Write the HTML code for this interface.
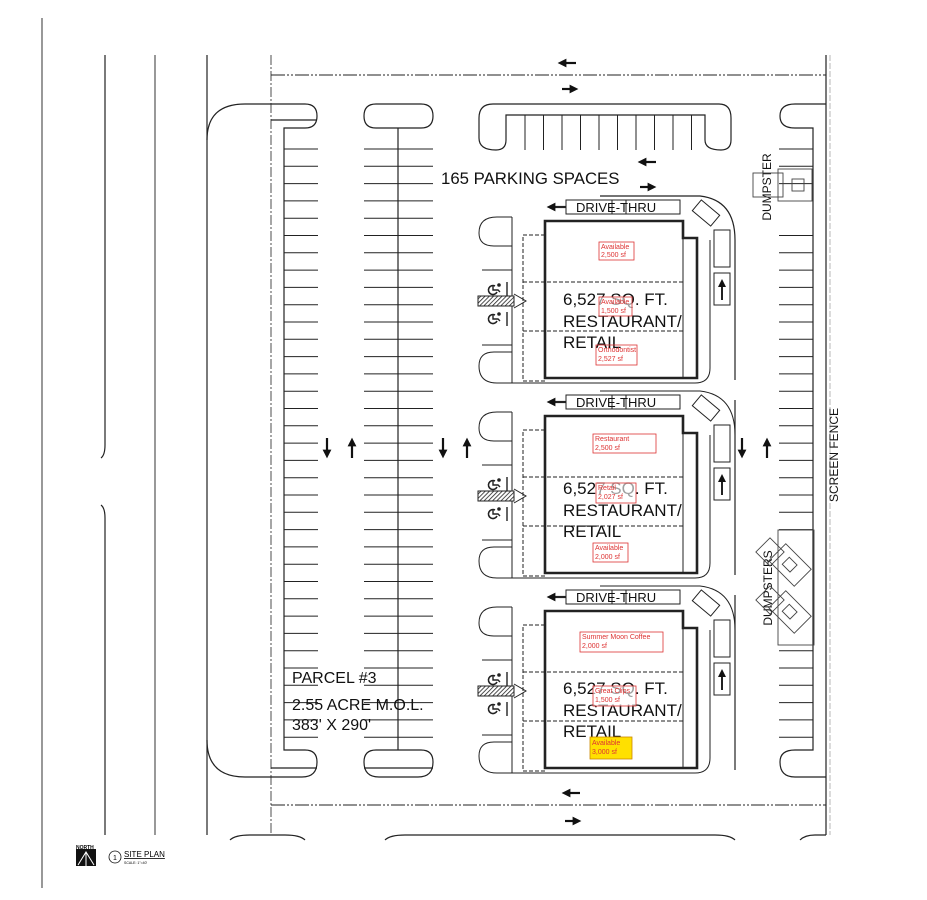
<!DOCTYPE html>
<html><head><meta charset="utf-8"><style>
html,body{margin:0;padding:0;background:#fff;width:927px;height:900px;overflow:hidden}
svg{display:block}
text{font-family:"Liberation Sans",sans-serif}
.r{fill:#d33;font-size:7px}
.big{font-size:17px;fill:#111}
</style></head><body>
<svg id="s" width="927" height="900" viewBox="0 0 927 900" xmlns="http://www.w3.org/2000/svg">
<defs>
<pattern id="h" width="3" height="3" patternUnits="userSpaceOnUse" patternTransform="rotate(45)"><rect width="3" height="3" fill="#fff"/><line x1="0" y1="0" x2="0" y2="3" stroke="#222" stroke-width="1.6"/></pattern>
<marker id="a" markerWidth="4" markerHeight="4" refX="2" refY="2" orient="auto-start-reverse"><path d="M0,0 L4,2 L0,4z" fill="#111"/></marker>
</defs>
<g fill="none" stroke="#222" stroke-width="1.2">
<line x1="42" y1="18" x2="42" y2="888" stroke="#555"/>
<path d="M105,55 V445 Q105,455 101,458"/><path d="M101,505 Q105,508 105,518 V835"/>
<line x1="155" y1="55" x2="155" y2="835" stroke="#555"/>
<line x1="207" y1="55" x2="207" y2="835"/>
<line x1="271" y1="55" x2="271" y2="835" stroke-dasharray="10,2,2,2" stroke-width="0.8"/>
<line x1="271" y1="75" x2="826" y2="75" stroke-dasharray="14,2,2,2,2,2" stroke-width="0.9"/>
<line x1="271" y1="805" x2="826" y2="805" stroke-dasharray="14,2,2,2,2,2" stroke-width="0.9"/>
<line x1="826" y1="55" x2="826" y2="835"/>
<line x1="830" y1="55" x2="830" y2="835" stroke-dasharray="6,2" stroke-width="0.6" stroke="#888"/>
<path d="M207,140 Q207,104 245,104 H305 Q317,104 317,116 Q317,128 305,128 H284 V750 H305 Q317,750 317,762 Q317,777 302,777 H245 Q207,777 207,740"/>
<line x1="271" y1="120" x2="317" y2="120"/><line x1="271" y1="768" x2="317" y2="768"/>
<path d="M364,116 Q364,104 376,104 H421 Q433,104 433,116 Q433,128 421,128 H376 Q364,128 364,116z"/>
<path d="M364,762 Q364,750 376,750 H421 Q433,750 433,762 Q433,777 418,777 H379 Q364,777 364,762z"/>
<line x1="364" y1="768" x2="433" y2="768"/>
<line x1="398" y1="128" x2="398" y2="750"/>
<path d="M493,104 H719 Q731,104 731,118 V140 Q731,150 721,150 Q705,150 705,140 V115 H506 V140 Q506,150 496,150 Q479,150 479,138 V118 Q479,104 493,104z"/>
<path d="M826,104 H795 Q780,104 780,116 Q780,128 795,128 H813 V750 H795 Q780,750 780,762 Q780,777 795,777 H826"/>
<path d="M230,840 Q235,835 250,835 H285 Q300,835 305,840"/>
<path d="M385,840 Q390,835 405,835 H715 Q730,835 735,840"/>
<path d="M800,840 Q805,835 815,835 H826"/>
<path d="M600,196 H700 Q735,200 735,240 V380"/>
<path d="M735,400 V575"/><path d="M735,595 V770"/>
</g>
<g id="gen" fill="none" stroke="#222" stroke-width="1"></g>
<g fill="none" stroke="#111" stroke-width="2.2" marker-end="url(#a)">
<line x1="576" y1="63" x2="562" y2="63"/><line x1="562" y1="89" x2="574" y2="89"/>
<line x1="656" y1="162" x2="642" y2="162"/><line x1="640" y1="187" x2="652" y2="187"/>
<line x1="580" y1="793" x2="566" y2="793"/><line x1="565" y1="821" x2="577" y2="821"/>
<line x1="327" y1="438" x2="327" y2="454"/><line x1="352" y1="458" x2="352" y2="442"/>
<line x1="443" y1="438" x2="443" y2="454"/><line x1="467" y1="458" x2="467" y2="442"/>
<line x1="742" y1="438" x2="742" y2="454"/><line x1="767" y1="458" x2="767" y2="442"/>
</g>
<text x="441" y="184" font-size="16.8" fill="#111">165 PARKING SPACES</text>
<text x="292" y="683" font-size="16" fill="#111">PARCEL #3</text>
<text x="292" y="710" font-size="16" fill="#111">2.55 ACRE M.O.L.</text>
<text x="292" y="730" font-size="16" fill="#111">383' X 290'</text>
<text transform="translate(838,455) rotate(-90)" text-anchor="middle" font-size="12" fill="#111">SCREEN FENCE</text>
<text transform="translate(771,187) rotate(-90)" text-anchor="middle" font-size="12" fill="#111">DUMPSTER</text>
<text transform="translate(772,588) rotate(-90)" text-anchor="middle" font-size="12" fill="#111">DUMPSTERS</text>
<g fill="none" stroke="#444" stroke-width="0.9">
<rect x="753" y="173" width="30" height="24"/><rect x="778" y="169" width="34" height="32"/><rect x="792" y="179" width="12" height="12"/>
<rect x="778" y="530" width="36" height="115"/>
<g transform="translate(790,565) rotate(45)"><rect x="-18" y="-12" width="36" height="24"/><rect x="-6" y="-5" width="11" height="10"/></g>
<g transform="translate(790,612) rotate(45)"><rect x="-18" y="-12" width="36" height="24"/><rect x="-6" y="-5" width="11" height="10"/></g>
<g transform="translate(770,552) rotate(45)"><rect x="-10" y="-10" width="20" height="20"/></g>
<g transform="translate(770,600) rotate(45)"><rect x="-10" y="-10" width="20" height="20"/></g>
</g>
<g>
<text x="563" y="305" class="big">6,527 SQ. FT.</text><text x="563" y="327" class="big">RESTAURANT/</text><text x="563" y="348" class="big">RETAIL</text>
<rect x="599" y="242" width="35" height="18" fill="none" stroke="#d33" stroke-width="0.8"/><text x="601" y="249" class="r">Available</text><text x="601" y="257" class="r">2,500 sf</text>
<rect x="599" y="297" width="33" height="19" fill="#fff" fill-opacity="0.6" stroke="#d33" stroke-width="0.8"/><text x="601" y="304" class="r">Available</text><text x="601" y="313" class="r">1,500 sf</text>
<rect x="596" y="345" width="41" height="20" fill="none" stroke="#d33" stroke-width="0.8"/><text x="598" y="352" class="r">Orthodontist</text><text x="598" y="361" class="r">2,527 sf</text>
</g>
<g>
<text x="563" y="494" class="big">6,527 SQ. FT.</text><text x="563" y="516" class="big">RESTAURANT/</text><text x="563" y="537" class="big">RETAIL</text>
<rect x="593" y="434" width="63" height="19" fill="none" stroke="#d33" stroke-width="0.8"/><text x="595" y="441" class="r">Restaurant</text><text x="595" y="450" class="r">2,500 sf</text>
<rect x="596" y="483" width="40" height="20" fill="#fff" fill-opacity="0.6" stroke="#d33" stroke-width="0.8"/><text x="598" y="490" class="r">Retail</text><text x="598" y="499" class="r">2,027 sf</text>
<rect x="593" y="543" width="35" height="19" fill="none" stroke="#d33" stroke-width="0.8"/><text x="595" y="550" class="r">Available</text><text x="595" y="559" class="r">2,000 sf</text>
</g>
<g>
<text x="563" y="694" class="big">6,527 SQ. FT.</text><text x="563" y="716" class="big">RESTAURANT/</text><text x="563" y="737" class="big">RETAIL</text>
<rect x="580" y="632" width="83" height="20" fill="none" stroke="#d33" stroke-width="0.8"/><text x="582" y="639" class="r">Summer Moon Coffee</text><text x="582" y="648" class="r">2,000 sf</text>
<rect x="593" y="686" width="43" height="20" fill="#fff" fill-opacity="0.6" stroke="#d33" stroke-width="0.8"/><text x="595" y="693" class="r">Great Clips</text><text x="595" y="702" class="r">1,500 sf</text>
<rect x="590" y="737" width="42" height="22" fill="#ffe000" stroke="#c80" stroke-width="0.8"/><text x="592" y="745" class="r">Available</text><text x="592" y="754" class="r">3,000 sf</text>
</g>
<text x="576" y="212" font-size="13" fill="#111">DRIVE-THRU</text>
<text x="576" y="407" font-size="13" fill="#111">DRIVE-THRU</text>
<text x="576" y="602" font-size="13" fill="#111">DRIVE-THRU</text>
<rect x="76" y="849" width="20" height="17" fill="#111"/><text x="76" y="849" font-size="5" font-weight="bold">NORTH</text>
<path d="M78,865 L86,852 L94,865 M86,852 V866" stroke="#fff" fill="none" stroke-width="1"/>
<circle cx="115" cy="857" r="6" fill="none" stroke="#111" stroke-width="0.8"/><text x="113" y="860" font-size="7">1</text>
<text x="124" y="857" font-size="8" text-decoration="underline">SITE PLAN</text>
<text x="124" y="864" font-size="3.5">SCALE: 1"=40'</text>
</svg>
<script>
var g=document.getElementById('gen'),N='http://www.w3.org/2000/svg';
function el(t,a){var e=document.createElementNS(N,t);for(var k in a)e.setAttribute(k,a[k]);g.appendChild(e);return e;}
function L(x1,y1,x2,y2,o){var a={x1:x1,y1:y1,x2:x2,y2:y2};for(var k in o)a[k]=o[k];el('line',a);}
function HC(x,y){el('path',{d:'M'+(x+5)+','+(y-3)+' A4.5,4.5 0 1 0 '+(x+7)+','+(y+3),'stroke-width':1.6});
el('path',{d:'M'+(x+3)+','+(y-4)+' V'+(y+1)+' H'+(x+8)+' L'+(x+10)+','+(y+3),'stroke-width':1.4});
el('circle',{cx:x+9,cy:y-4,r:1.3,fill:'#222'});}
for(var y=149;y<740;y+=17.3){L(284,y,318,y);L(364,y,433,y);}
for(var y=149;y<745;y+=17.3){ if((y>200&&y<225)||(y>530&&y<650))continue; L(779,y,813,y);}
for(var x=525;x<705;x+=18.5)L(x,115,x,150);
for(var i=0;i<3;i++){var d=195*i;
el('path',{d:'M512,'+(217+d)+' H497 Q479,'+(217+d)+' 479,'+(233+d)+' Q479,'+(246+d)+' 494,'+(246+d)+' H512'});
el('path',{d:'M512,'+(352+d)+' H494 Q479,'+(352+d)+' 479,'+(366+d)+' Q479,'+(383+d)+' 497,'+(383+d)+' H695 Q710,'+(383+d)+' 710,'+(368+d)+' V'+(240+d)});
L(512,217+d,512,383+d);
L(482,270+d,512,270+d);L(482,345+d,512,345+d);
L(507,282+d,507,296+d,{'stroke-width':1.4});L(507,312+d,507,326+d,{'stroke-width':1.4});
HC(490,289+d);HC(490,318+d);
el('rect',{x:478,y:296+d,width:36,height:10,fill:'url(#h)'});
el('path',{d:'M514,'+(294+d)+' L526,'+(301+d)+' L514,'+(308+d)});
el('rect',{x:523,y:235+d,width:22,height:146,'stroke-dasharray':'4,2'});
L(523,282+d,683,282+d,{'stroke-dasharray':'4,2'});L(523,331+d,683,331+d,{'stroke-dasharray':'4,2'});
el('path',{d:'M545,'+(221+d)+' H683 V'+(238+d)+' H697 V'+(378+d)+' H545z','stroke-width':2.6});
L(683,238+d,683,378+d);
el('rect',{x:566,y:200+d,width:46,height:14});el('rect',{x:612,y:200+d,width:14,height:14});el('rect',{x:626,y:200+d,width:54,height:14});
L(566,207+d,551,207+d,{'stroke-width':2.2,'marker-end':'url(#a)'});
el('rect',{x:-12,y:-7,width:24,height:14,transform:'translate(706,'+(213+d)+') rotate(40)'});
el('rect',{x:714,y:230+d,width:16,height:37});el('rect',{x:714,y:273+d,width:16,height:32});
L(722,300+d,722,283+d,{'stroke-width':2,'marker-end':'url(#a)'});
if(i>0)el('path',{d:'M600,'+(196+d)+' H700 Q735,'+(200+d)+' 735,'+(240+d)});
}
</script>
</body></html>
